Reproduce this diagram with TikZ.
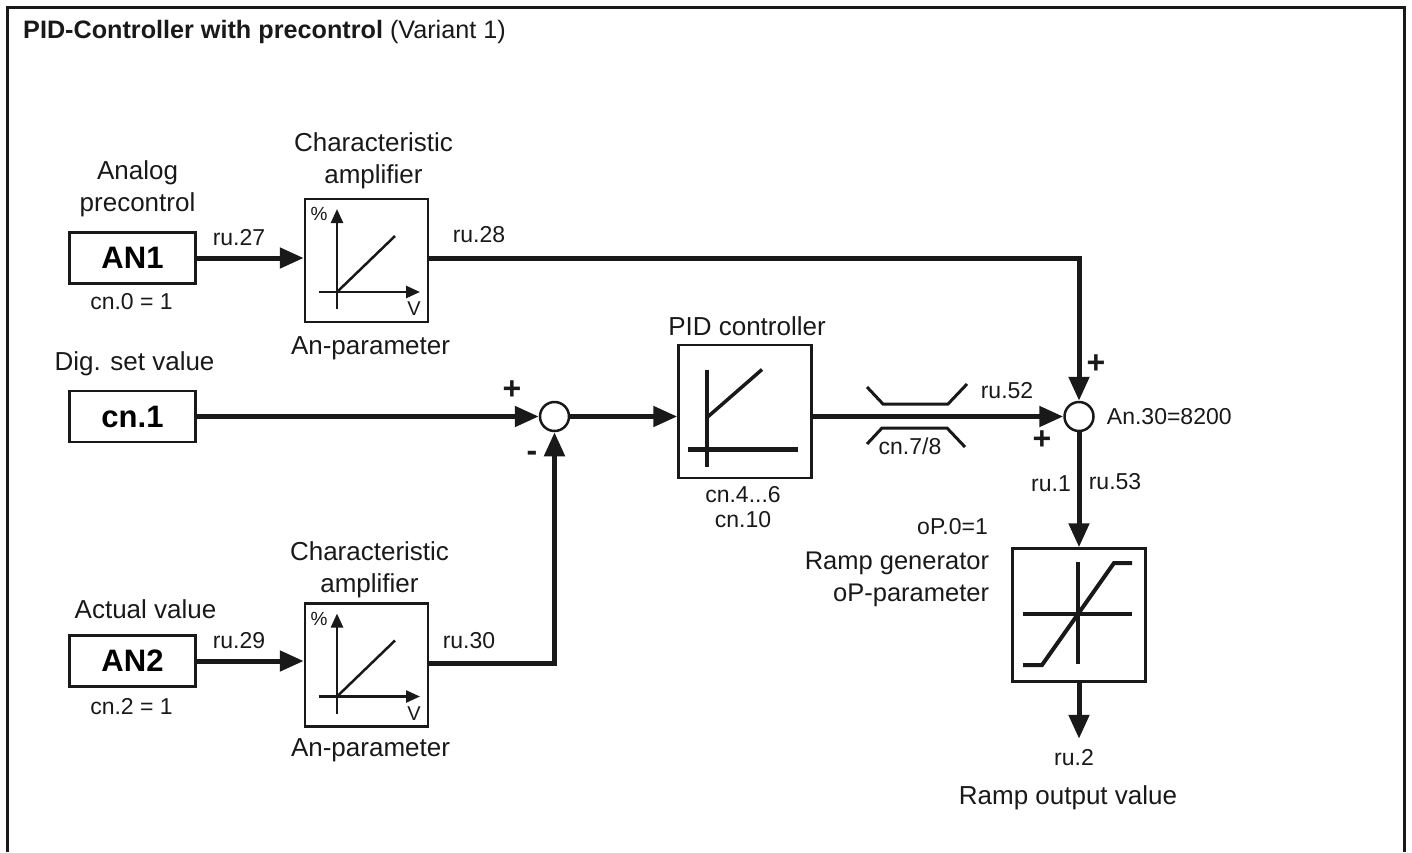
\documentclass[tikz,border=0pt]{standalone}
\usepackage{fontspec}
\setmainfont{Liberation Sans}
\usetikzlibrary{arrows.meta, positioning}
\tikzset{
  %% Input block
  inblock/.style={
    rectangle, draw=black!90, fill=white,
    minimum width=126pt, minimum height=51pt,
    font=\fontsize{31}{36}\selectfont\bfseries,
    inner sep=0pt, line width=2.5pt
  },
  %% Square function block
  fblock/.style={
    rectangle, draw=black!90, fill=white,
    minimum width=#1, minimum height=#1,
    inner sep=0pt, line width=2.5pt
  },
  fblock/.default=123pt,
  %% Summing point
  sumpt/.style={
    circle, draw=black!90, fill=white,
    minimum size=29pt, inner sep=0pt, line width=2.5pt
  },
  %% Arrow
  arr/.style={-{Triangle[length=24pt,width=20pt]},
              draw=black!90, line width=5pt},
  axisarr/.style={-{Triangle[length=14pt,width=12pt]},
              draw=black!90, line width=2.5pt},
  curveline/.style={draw=black!90, line width=#1},
  curveline/.default=2.5pt,
  %% Texts
  lbl/.style={font=\fontsize{26}{32}\selectfont, text=black!90,
              inner sep=0pt, align=center},
  small/.style={font=\fontsize{23}{25}\selectfont, text=black!90,
                inner sep=0pt},
  sign/.style={font=\fontsize{32}{32}\selectfont\bfseries, text=black!90,
               inner sep=0pt},
  %% Characteristic curve in amplifier
  ampcurve/.pic={
    \draw[axisarr] (-29.5,48.5) -- (-29.5,-51.5);
    \draw[axisarr] (-47.5,31.5) -- (53.5,31.5);
    \draw[curveline] (-29.5,31.5) -- (28.5,-24.5);
    \node[font=\fontsize{19}{19}\selectfont, text=black!90, inner sep=0pt]
      (-pct) at (-47.5,-46.5) {\%};
    \node[font=\fontsize{20}{20}\selectfont, text=black!90, inner sep=0pt]
      (-volt) at (47.5,48.5) {V};
  },
}
\begin{document}
\begin{tikzpicture}[x=1pt, y=-1pt]
  \useasboundingbox (0,0) rectangle (1412,852);

  %% Frame and title
  \draw[draw=black!90, line width=3pt] (7.5,852) -- (7.5,7.5) -- (1404,7.5) -- (1404,852);
  \node[anchor=base west, small, font=\fontsize{25.2}{28}\selectfont] (title) at (23,38)
    {\textbf{PID-Controller with precontrol} (Variant 1)};

  %% Input blocks
  \node[inblock] (an1) at (132.5,258) {AN1};
  \node[inblock, below=105pt of an1] (cn1) {cn.1};
  \node[inblock, below=191pt of cn1] (an2) {AN2};

  %% Amplifiers
  \node[fblock, right=107pt of an1, yshift=-2.5pt] (amp1) {};
  \node[fblock, right=107pt of an2, yshift=-4pt] (amp2) {};
  \pic (amp1c) at (amp1) {ampcurve};
  \pic (amp2c) at (amp2) {ampcurve};

  %% Summing points, PID and ramp
  \node[sumpt, right=342pt of cn1] (sum1) {};
  \node[fblock=133pt, right=107pt of sum1, yshift=5pt] (pid) {};
  \node[sumpt, right=493pt of sum1] (sum2) {};
  \node[fblock=133pt, below=115pt of sum2] (ramp) {};
  \coordinate[below=56pt of ramp] (rampout);

  %% PID curve
  \begin{scope}[shift={(pid.center)}]
    \draw[curveline=4.5pt] (-38,-42) -- (-38,55);
    \draw[curveline=4.5pt] (-57,38) -- (53,38);
    \draw[curveline=3.5pt] (-38,6) -- (17,-42);
  \end{scope}

  %% Ramp curve
  \begin{scope}[shift={(ramp.center)}]
    \draw[curveline=4pt] (-1,-53) -- (-1,49);
    \draw[curveline=4pt] (-56,-1) -- (53,-1);
    \draw[curveline=4pt] (-56,50) -- (-37,50) -- (35,-52) -- (53,-52);
  \end{scope}

  %% Limiter marks
  \draw[curveline=3pt] (867,387) -- (883,404) -- (948,404) -- (967,384);
  \draw[curveline=3pt] (867,444) -- (882,428) -- (947,428) -- (965,447);

  %% Connectors
  \draw[arr] (an1) -- (an1 -| amp1.west);
  \draw[arr] (an2) -- (an2 -| amp2.west);
  \draw[arr] (cn1) -- (sum1);
  \draw[arr] (sum1) -- (sum1 -| pid.west);
  \draw[arr] (sum2 -| pid.east) -- (sum2);
  \draw[arr] (sum2) -- (ramp);
  \draw[arr] (ramp) -- (rampout);
  \draw[arr] (an1 -| amp1.east) -| (sum2.north);
  \draw[arr] ([yshift=2pt]amp2.east) -| (sum1.south);

  %% Block captions
  \node[lbl, above=14pt of an1, xshift=5pt] (an1cap) {Analog\\precontrol};
  \node[lbl, above=14pt of cn1, xshift=2pt] (cn1cap) {Dig. set value};
  \node[lbl, above=15pt of an2, xshift=13pt] (an2cap) {Actual value};
  \node[small, below=8pt of an1, xshift=-1pt] (an1par) {cn.0 = 1};
  \node[small, below=10pt of an2, xshift=-1pt] (an2par) {cn.2 = 1};
  \node[lbl, above=9pt of amp1, xshift=7pt] (amp1cap) {Characteristic\\amplifier};
  \node[lbl, above=4pt of amp2, xshift=3pt] (amp2cap) {Characteristic\\amplifier};
  \node[lbl, below=13pt of amp1, xshift=4pt] (amp1par) {An-parameter};
  \node[lbl, below=11pt of amp2, xshift=4pt] (amp2par) {An-parameter};
  \node[lbl, above=8pt of pid, xshift=2pt] (pidcap) {PID controller};
  \node[small, below=7pt of pid, xshift=-2pt, align=center] (pidpar) {cn.4...6\\cn.10};
  \node[lbl, font=\fontsize{25.5}{32}\selectfont, left=22pt of ramp.north west, anchor=north east,
        yshift=-4pt, align=right] (rampcap)
    {Ramp generator\\oP-parameter};
  \node[small, anchor=east] (ramppar) at (988,527) {oP.0=1};
  \node[small, below=10pt of rampout, xshift=-5pt] (ru2) {ru.2};
  \node[lbl, below=20pt of ru2, xshift=-6pt] (rampval) {Ramp output value};

  %% Connector labels
  \node[small] (ru27) at (239,238) {ru.27};
  \node[small] (ru28) at (479,235) {ru.28};
  \node[small] (ru29) at (239,641) {ru.29};
  \node[small] (ru30) at (469,641) {ru.30};
  \node[small] (ru52) at (1007,391) {ru.52};
  \node[small] (cn78) at (910,446) {cn.7/8};
  \node[small] (ru1) at (1051,484) {ru.1};
  \node[small] (ru53) at (1115,482) {ru.53};
  \node[small, right=12pt of sum2] (an30) {An.30=8200};

  %% Signs
  \node[sign] (plusa) at (512,390) {+};
  \node[sign] (minusa) at (532,456) {-};
  \node[sign] (plusb) at (1096,364) {+};
  \node[sign] (plusc) at (1042,440) {+};
\end{tikzpicture}
\end{document}
